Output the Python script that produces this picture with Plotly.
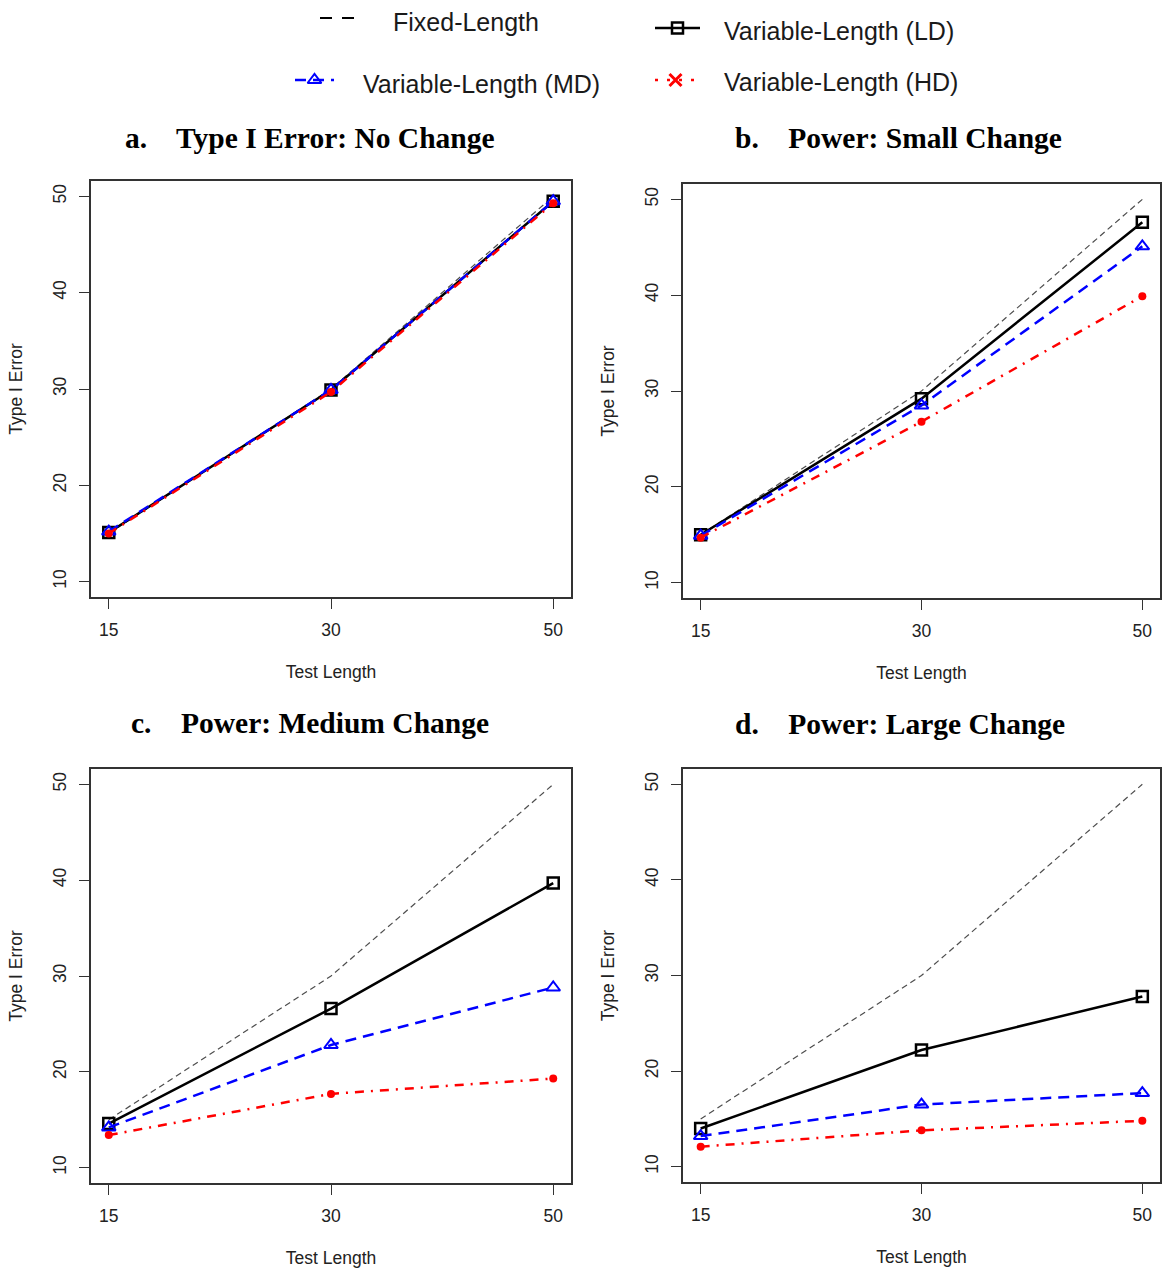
import plotly.graph_objects as go

# Test lengths (categorical x axis)
test_lengths = ["15", "30", "50"]

# Percentages per condition
fixed_a = [15.0, 30.0, 50.0]
ld_a = [15.1, 29.9, 49.5]
md_a = [15.2, 29.9, 49.5]
hd_a = [15.0, 29.7, 49.3]

fixed_b = [15.0, 30.0, 50.0]
ld_b = [15.0, 29.2, 47.6]
md_b = [14.9, 28.5, 45.1]
hd_b = [14.7, 26.8, 39.9]

fixed_c = [15.0, 30.0, 50.0]
ld_c = [14.6, 26.6, 39.7]
md_c = [14.2, 22.8, 28.8]
hd_c = [13.4, 17.7, 19.3]

fixed_d = [15.0, 30.0, 50.0]
ld_d = [14.0, 22.2, 27.8]
md_d = [13.2, 16.5, 17.7]
hd_d = [12.1, 13.8, 14.8]

panel_titles = [
    "a.    Type I Error: No Change",
    "b.    Power: Small Change",
    "c.    Power: Medium Change",
    "d.    Power: Large Change",
]
series_names = ["Fixed-Length", "Variable-Length (LD)", "Variable-Length (MD)", "Variable-Length (HD)"]
y_ticks = [10, 20, 30, 40, 50]

panels = [
    (fixed_a, ld_a, md_a, hd_a),
    (fixed_b, ld_b, md_b, hd_b),
    (fixed_c, ld_c, md_c, hd_c),
    (fixed_d, ld_d, md_d, hd_d),
]

W, H = 1162, 1270


def px_x(p):
    return p / W


def px_y(p):
    return 1 - p / H


# plot boxes in pixels: (left, right, top, bottom)
boxes = [
    (91, 571, 181, 597),
    (683, 1160, 184, 598),
    (91, 571, 769, 1183),
    (683, 1160, 769, 1182),
]
title_pos = [(310, 138), (899, 138), (310, 723), (900, 724)]

AX_FONT = dict(family="Liberation Sans, Arial, sans-serif", size=17.5, color="#222222")
TITLE_FONT = dict(family="Liberation Serif, Times New Roman, serif", size=29.5, color="#000000")
LEG_FONT = dict(family="Liberation Sans, Arial, sans-serif", size=25, color="#1a1a1a")

styles = {
    "fixed": dict(line=dict(color="#4d4d4d", width=1.2, dash="6px,4px"), mode="lines"),
    "ld": dict(line=dict(color="#000000", width=2.5), mode="lines+markers",
               marker=dict(symbol="square-open", size=11, color="#000000", line=dict(width=2.5, color="#000000"))),
    "md": dict(line=dict(color="#0000ff", width=2.5, dash="11px,7px"), mode="lines+markers",
               marker=dict(symbol="triangle-up-open", size=12, color="#0000ff", line=dict(width=2, color="#0000ff"))),
    "hd": dict(line=dict(color="#ff0000", width=2.5, dash="9px,7px,2px,7px"), mode="lines+markers",
               marker=dict(symbol="circle", size=8, color="#ff0000")),
}

fig = go.Figure()
layout = {}
annotations = []

for i, (vals, box) in enumerate(zip(panels, boxes)):
    n = "" if i == 0 else str(i + 1)
    xa, ya = "x" + n, "y" + n
    for key, name, y in zip(["fixed", "ld", "md", "hd"], series_names, vals):
        fig.add_trace(go.Scatter(x=test_lengths, y=y, name=name, xaxis=xa, yaxis=ya,
                                 showlegend=False, hoverinfo="x+y+name", **styles[key]))
    left, right, top, bottom = box
    layout["xaxis" + n] = dict(
        domain=[px_x(left), px_x(right)], anchor=ya, type="category",
        range=[-0.08, 2.08], showgrid=False, zeroline=False,
        showline=True, mirror=True, linecolor="#333333", linewidth=1.5,
        ticks="outside", ticklen=10, tickwidth=1.2, tickcolor="#333333",
        tickfont=AX_FONT, ticklabelstandoff=6,
        title=dict(text="Test Length", font=AX_FONT, standoff=27),
    )
    layout["yaxis" + n] = dict(
        domain=[px_y(bottom), px_y(top)], anchor=xa,
        range=[8.4, 51.6], tickvals=y_ticks, showgrid=False, zeroline=False,
        showline=True, mirror=True, linecolor="#333333", linewidth=1.5,
        ticks="outside", ticklen=10, tickwidth=1.2, tickcolor="#333333",
        tickfont=AX_FONT, tickangle=-90, ticklabelstandoff=6,
        title=dict(text="Type I Error", font=AX_FONT, standoff=23),
    )
    tx, ty = title_pos[i]
    annotations.append(dict(text="<b>" + panel_titles[i] + "</b>", x=px_x(tx), y=px_y(ty),
                            xref="paper", yref="paper", xanchor="center", yanchor="middle",
                            showarrow=False, font=TITLE_FONT))

# Legend keys drawn on a hidden pixel-space axis across the top band
layout["xaxis5"] = dict(domain=[0, 1], range=[0, W], visible=False, anchor="y5")
layout["yaxis5"] = dict(domain=[px_y(110), 1], range=[110, 0], visible=False, anchor="x5")

legend_keys = [
    # (name, style key, line x0, x1, y, marker symbol, text x, text y)
    (series_names[0], "fixed", 320, 362, 18, None, 391, 22),
    (series_names[1], "ld", 655, 700, 28, "square-open", 722, 31),
    (series_names[2], "md", 295, 334, 80, "triangle-up-open", 361, 84),
    (series_names[3], "hd", 655, 696, 80, "x-thin-open", 722, 82),
]
for name, key, x0, x1, yk, sym, tx, tyk in legend_keys:
    st = styles[key]
    line = dict(st["line"])
    if key == "fixed":
        line = dict(color="#000000", width=2, dash="12px,10px")
    elif key == "hd":
        line = dict(color="#ff0000", width=2.5, dash="3px,9px")
    fig.add_trace(go.Scatter(x=[x0, x1], y=[yk, yk], mode="lines", line=line,
                             xaxis="x5", yaxis="y5", showlegend=False, hoverinfo="skip"))
    if sym:
        mk = dict(st["marker"])
        if key == "hd":
            mk = dict(symbol="x-thin-open", size=12, color="#ff0000", line=dict(width=3, color="#ff0000"))
        fig.add_trace(go.Scatter(x=[(x0 + x1) / 2], y=[yk], mode="markers", marker=mk,
                                 xaxis="x5", yaxis="y5", showlegend=False, hoverinfo="skip"))
    annotations.append(dict(text=name, x=px_x(tx), y=px_y(tyk), xref="paper", yref="paper",
                            xanchor="left", yanchor="middle", showarrow=False, font=LEG_FONT))

fig.update_layout(
    width=W, height=H,
    margin=dict(l=0, r=0, t=0, b=0),
    paper_bgcolor="white", plot_bgcolor="white",
    showlegend=False,
    annotations=annotations,
    **layout,
)

fig.write_html("out.html")
